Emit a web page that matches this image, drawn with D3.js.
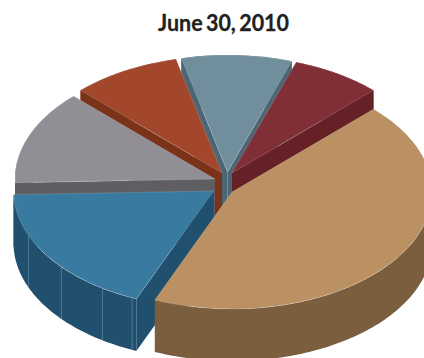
<!DOCTYPE html>
<html>
<head>
<meta charset="utf-8">
<style>
  html, body { margin: 0; padding: 0; background: #fff; overflow: hidden; }
  svg { display: block; }
</style>
<script src="https://cdn.jsdelivr.net/npm/d3@7/dist/d3.min.js"></script>
</head>
<body>
<script>
// Portfolio shares, clockwise from the upper right of the pie
const shares = [43.8, 18.2, 13.0, 8.8, 8.9, 7.3];
const sliceKeys = ["tan", "blue", "gray", "rust", "teal", "maroon"];
const topColors = ["#bb9063", "#387aa0", "#918e95", "#a3472c", "#708e9b", "#7f2f35"];
const sideColors = ["#7a5e3e", "#20506e", "#5f5e63", "#7a3218", "#4b6674", "#662127"];
// Where each exploded wedge has its point
const apexX = [232, 213.5, 215, 222, 227.5, 232];
const apexY = [192, 191, 179, 173, 172, 173];
// Back-to-front painting order, by index into the arrays above
const paintOrder = [4, 3, 5, 2, 1, 0];
// Seams on the blue outer wall, in degrees clockwise from the top
const blueSeams = [204, 213.7, 229.5, 247.7];

const title = "June 30, 2010";
const width = 424, height = 358;
const rx = 200, ry = 117, depth = 52;
const firstAngle = 45 * Math.PI / 180;

const svg = d3.select("body").append("svg")
  .attr("width", width).attr("height", height);

svg.append("text")
  .attr("x", 223.5).attr("y", 31)
  .attr("text-anchor", "middle")
  .attr("font-family", "Lato, 'Open Sans', sans-serif")
  .attr("font-weight", 700)
  .attr("font-size", 23)
  .attr("word-spacing", -2)
  .attr("fill", "#231f20")
  .attr("stroke", "#231f20")
  .attr("stroke-width", 0.3)
  .attr("textLength", 131)
  .attr("lengthAdjust", "spacingAndGlyphs")
  .text(title);

const pie = d3.pie().sort(null)
  .startAngle(firstAngle).endAngle(firstAngle + 2 * Math.PI);
const arcs = pie(shares);

const arcTop = d3.arc().innerRadius(0).outerRadius(rx);
const rimX = (i, a) => apexX[i] + rx * Math.sin(a);
const rimY = (i, a) => apexY[i] - ry * Math.cos(a);

paintOrder.forEach(i => {
  const d = arcs[i];
  const g = svg.append("g").attr("class", "slice-" + sliceKeys[i]);

  // Outer curved wall
  const steps = d3.range(d.startAngle, d.endAngle, 0.02).concat([d.endAngle]);
  const wall = d3.area()
    .x(a => rimX(i, a))
    .y0(a => rimY(i, a))
    .y1(a => rimY(i, a) + depth);
  g.append("path").attr("d", wall(steps)).attr("fill", sideColors[i]);

  // The two radial cut faces
  [d.startAngle, d.endAngle].forEach(a => {
    const face = d3.line()([
      [apexX[i], apexY[i]],
      [rimX(i, a), rimY(i, a)],
      [rimX(i, a), rimY(i, a) + depth],
      [apexX[i], apexY[i] + depth]
    ]) + "Z";
    g.append("path").attr("d", face).attr("fill", sideColors[i]);
  });

  if (sliceKeys[i] === "blue") {
    blueSeams.forEach(deg => {
      const a = deg * Math.PI / 180;
      g.append("line")
        .attr("x1", rimX(i, a)).attr("x2", rimX(i, a))
        .attr("y1", rimY(i, a)).attr("y2", rimY(i, a) + depth)
        .attr("stroke", "#5d8ca8").attr("stroke-width", 0.7);
    });
  }

  // Top face, a flattened circular sector with a pale edge
  g.append("path")
    .attr("d", arcTop(d))
    .attr("transform", `translate(${apexX[i]},${apexY[i]}) scale(1,${ry / rx})`)
    .attr("fill", topColors[i])
    .attr("stroke", "#fff")
    .attr("stroke-opacity", 0.25)
    .attr("stroke-width", 0.7)
    .attr("vector-effect", "non-scaling-stroke");
});
</script>
</body>
</html>
